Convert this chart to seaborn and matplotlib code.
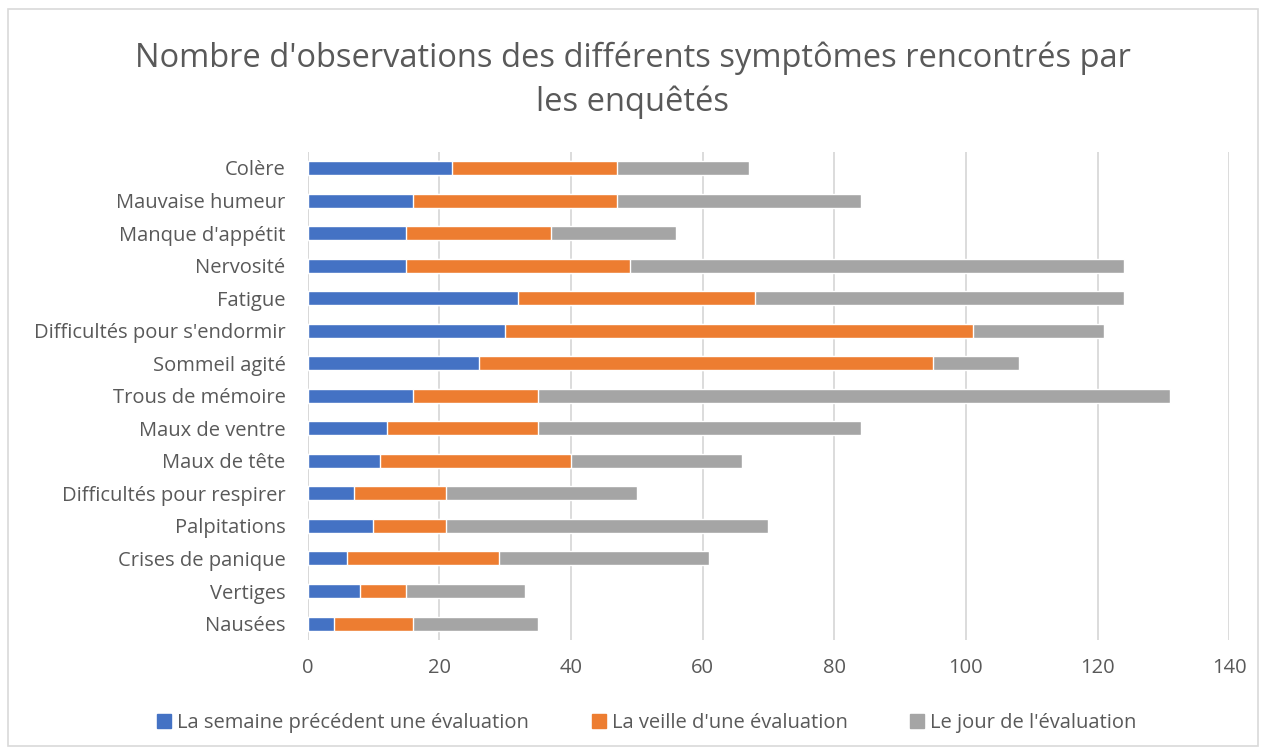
import matplotlib
matplotlib.use('Agg')
import matplotlib.pyplot as plt
import seaborn as sns
import numpy as np
import pandas as pd
from matplotlib.patches import Rectangle, Patch

symptomes = ["Colère", "Mauvaise humeur", "Manque d'appétit", "Nervosité", "Fatigue",
             "Difficultés pour s'endormir", "Sommeil agité", "Trous de mémoire",
             "Maux de ventre", "Maux de tête", "Difficultés pour respirer",
             "Palpitations", "Crises de panique", "Vertiges", "Nausées"]
semaine = [22, 16, 15, 15, 32, 30, 26, 16, 12, 11, 7, 10, 6, 8, 4]
veille = [25, 31, 22, 34, 36, 71, 69, 19, 23, 29, 14, 11, 23, 7, 12]
jour = [20, 37, 19, 75, 56, 20, 13, 96, 49, 26, 29, 49, 32, 18, 19]

series = ["La semaine précédent une évaluation", "La veille d'une évaluation", "Le jour de l'évaluation"]
colors = ["#4472C4", "#ED7D31", "#A5A5A5"]

df = pd.DataFrame({'symptome': symptomes, 's': semaine, 'v': veille, 'j': jour})
df['c1'] = df['s']
df['c2'] = df['s'] + df['v']
df['c3'] = df['c2'] + df['j']

sns.set_style('white')
plt.rcParams['font.family'] = ['Open Sans', 'DejaVu Sans']

fig = plt.figure(figsize=(12.66, 7.51), dpi=100)
ax = fig.add_axes([0.243, 0.148, 0.728, 0.65])

# barres empilées : on trace les cumuls du plus grand au plus petit
for col, c in zip(['c3', 'c2', 'c1'], colors[::-1]):
    sns.barplot(data=df, x=col, y='symptome', orient='h', color=c, width=0.43,
                saturation=1, ax=ax, zorder=3)

ax.set_xlim(0, 140)
ax.set_xticks(range(0, 141, 20))
ax.set_xlabel('')
ax.set_ylabel('')
ax.grid(axis='x', color='#D9D9D9', linewidth=1.3, zorder=0)
for s in ax.spines.values():
    s.set_visible(False)
ax.axvline(0, color='#D9D9D9', linewidth=1.3, zorder=1)
ax.tick_params(axis='both', length=0, labelsize=14.5, labelcolor='#595959')
ax.tick_params(axis='x', pad=13)
ax.tick_params(axis='y', pad=16)

fig.text(0.5, 0.893, "Nombre d'observations des différents symptômes rencontrés par\nles enquêtés",
         ha='center', va='center', fontsize=23.5, color='#595959', linespacing=1.4)

handles = [Patch(color=c) for c in colors]
fig.legend(handles, series, loc='center', bbox_to_anchor=(0.511, 0.037), ncol=3,
           frameon=False, fontsize=14.5, labelcolor='#595959', handlelength=0.7,
           handleheight=0.7, handletextpad=0.3, columnspacing=3.1)

fig.patches.append(Rectangle((0.006, 0.006), 0.988, 0.982, transform=fig.transFigure,
                             fill=False, edgecolor='#D9D9D9', linewidth=1.2))

fig.savefig('out.png', dpi=100)
